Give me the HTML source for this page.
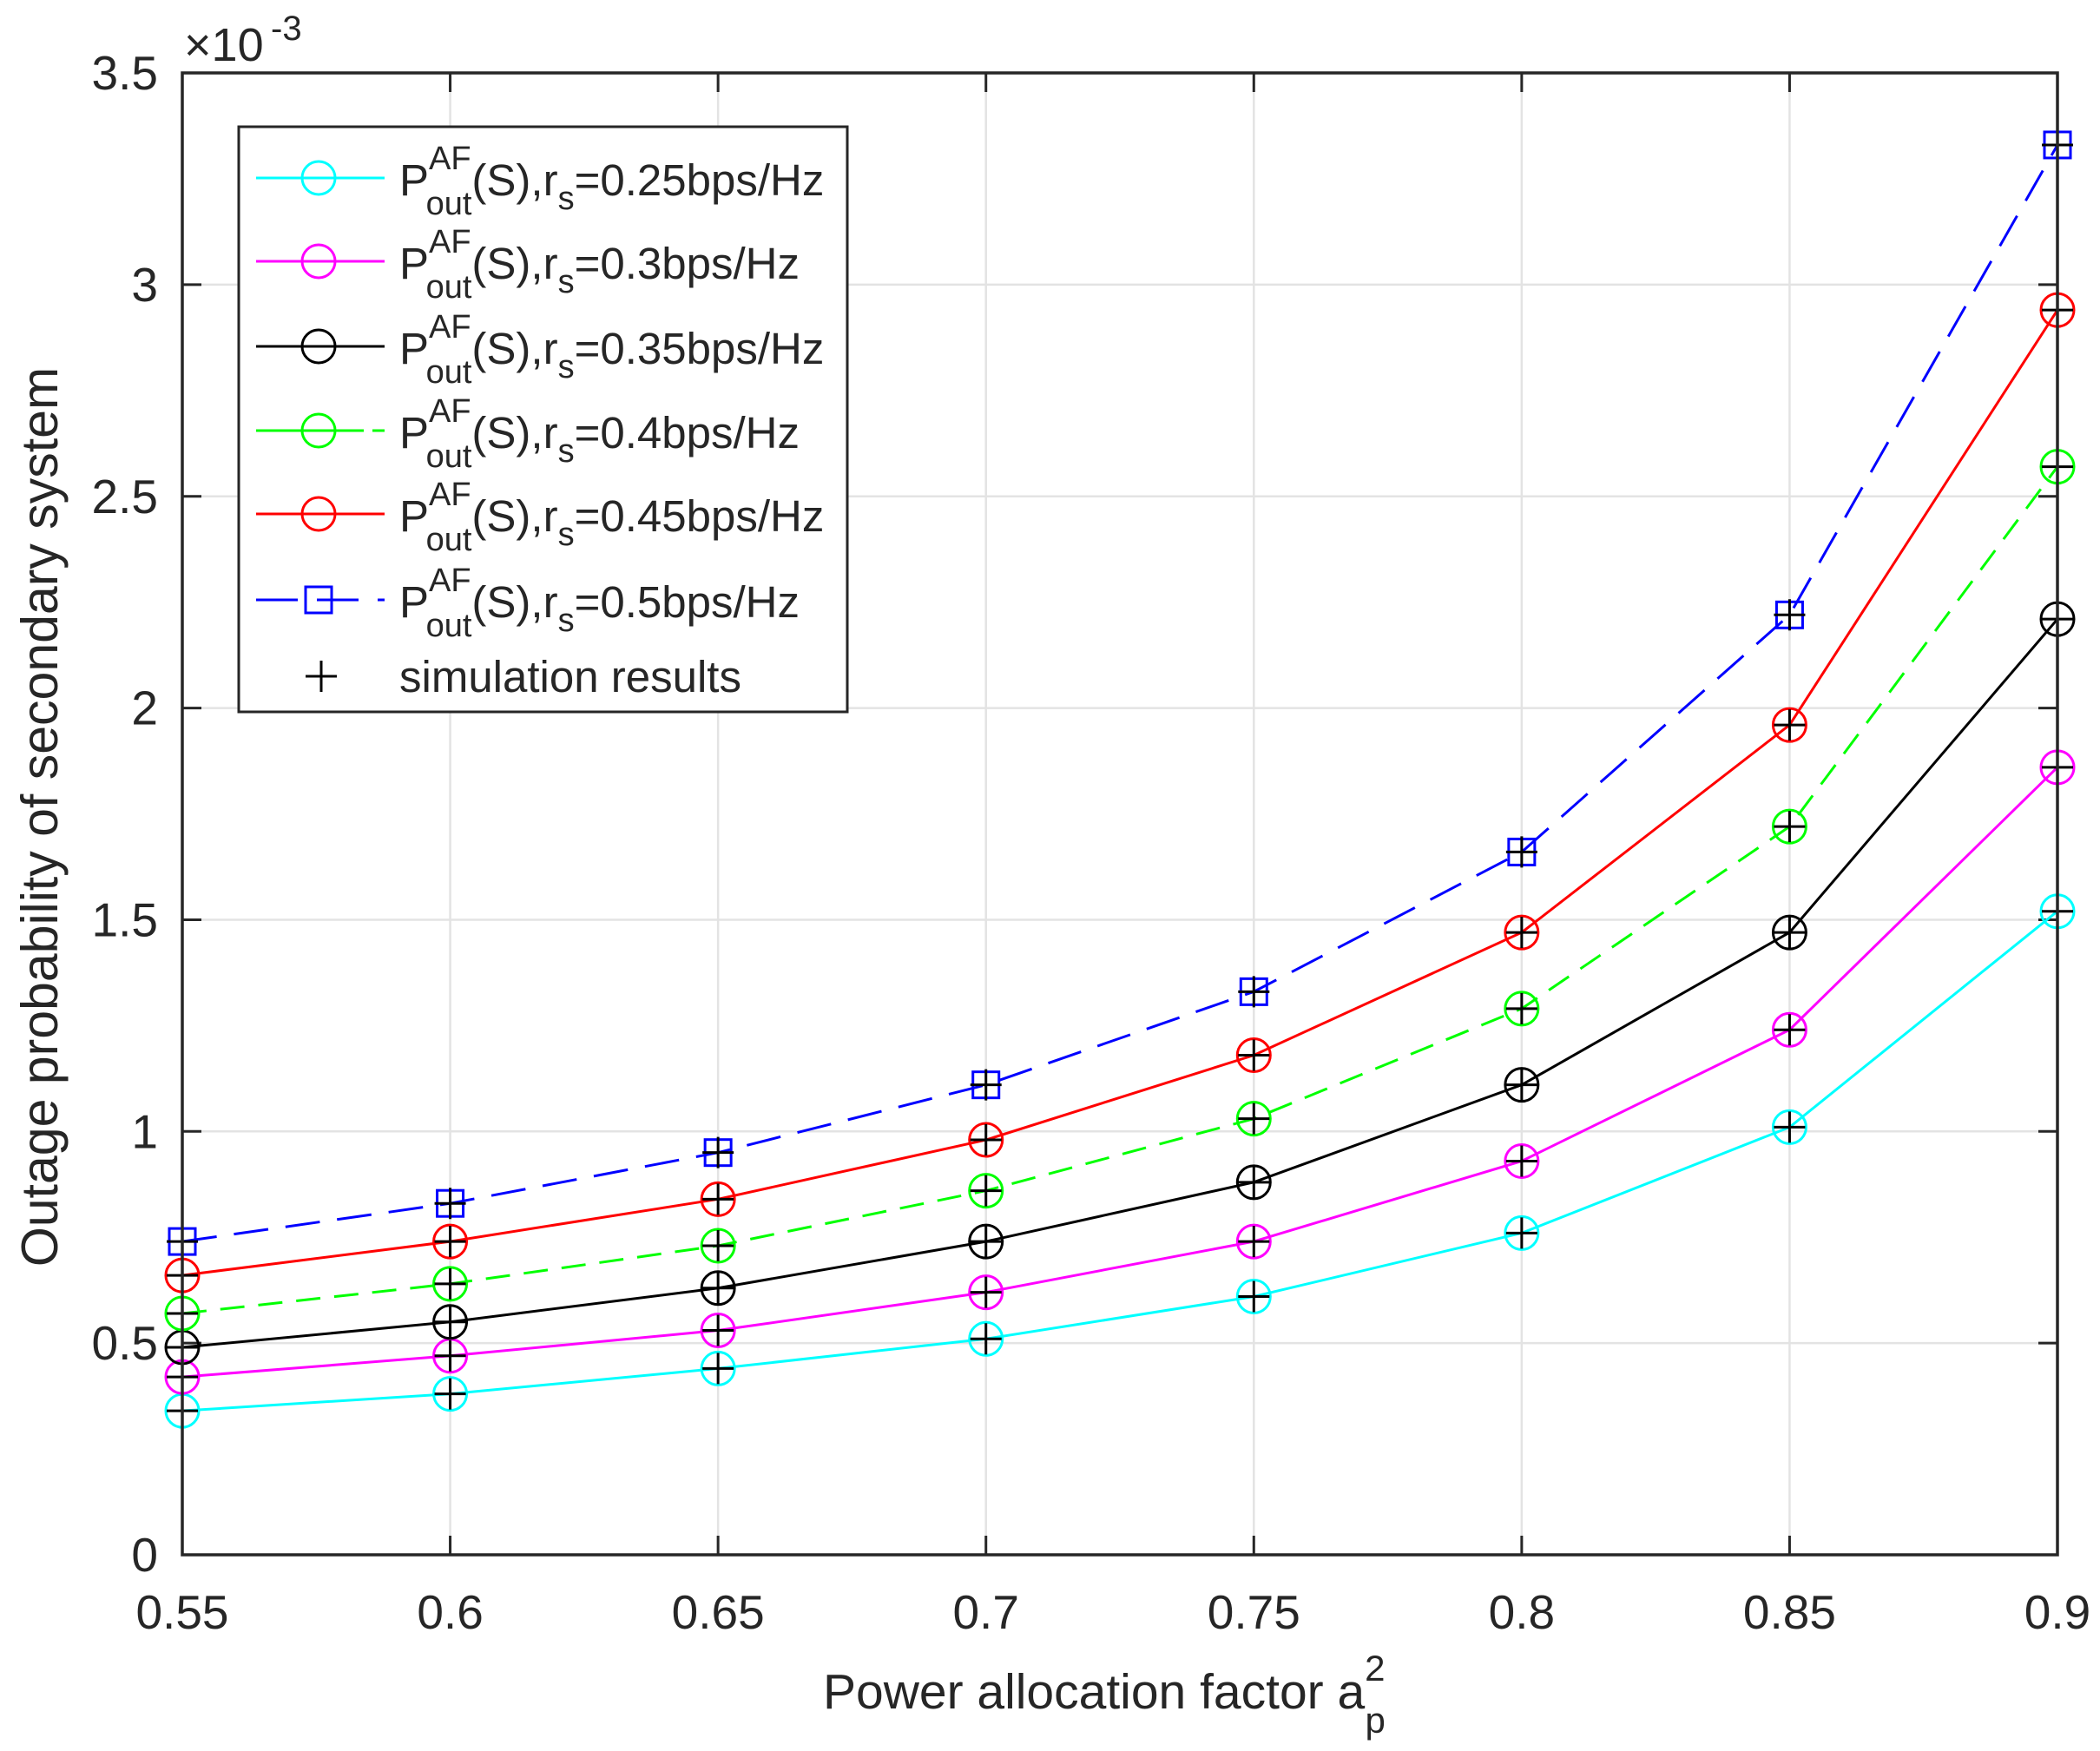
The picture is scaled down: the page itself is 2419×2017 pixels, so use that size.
<!DOCTYPE html>
<html><head><meta charset="utf-8"><style>body{margin:0;background:#fff}svg{display:block}text{font-family:"Liberation Sans",sans-serif;fill:#262626}</style></head>
<body>
<svg id="s" width="2419" height="2017" viewBox="0 0 2419 2017" xmlns="http://www.w3.org/2000/svg"></svg>
<script>
const S=document.getElementById('s');let h='';
const X=v=>210+(v-0.55)/0.35*2160, Y=v=>1791-v*487.7;
const xs=[0.55,0.6,0.65,0.7,0.75,0.8,0.85,0.9];
xs.forEach(v=>{h+=`<line x1="${X(v)}" y1="84" x2="${X(v)}" y2="1791" stroke="#e3e3e3" stroke-width="2.5"/>`;});
for(let i=0;i<=7;i++){const y=Y(i*0.5);h+=`<line x1="210" y1="${y}" x2="2370" y2="${y}" stroke="#e3e3e3" stroke-width="2.5"/>`;}
xs.forEach(v=>{const x=X(v);h+=`<line x1="${x}" y1="1791" x2="${x}" y2="1769" stroke="#262626" stroke-width="3"/><line x1="${x}" y1="84" x2="${x}" y2="106" stroke="#262626" stroke-width="3"/><text x="${x}" y="1876" font-size="55" text-anchor="middle">${v}</text>`;});
const yl=['0','0.5','1','1.5','2','2.5','3','3.5'];
for(let i=0;i<=7;i++){const y=Y(i*0.5);h+=`<line x1="210" y1="${y}" x2="232" y2="${y}" stroke="#262626" stroke-width="3"/><line x1="2370" y1="${y}" x2="2348" y2="${y}" stroke="#262626" stroke-width="3"/><text x="182" y="${y+19}" font-size="55" text-anchor="end">${yl[i]}</text>`;}
const data=[
['#00ffff','',[0.34,0.38,0.44,0.51,0.61,0.76,1.01,1.52],'c','0.25'],
['#ff00ff','',[0.42,0.47,0.53,0.62,0.74,0.93,1.24,1.86],'c','0.3'],
['#000000','',[0.49,0.55,0.63,0.74,0.88,1.11,1.47,2.21],'c','0.35'],
['#00ff00','28,16',[0.57,0.64,0.73,0.86,1.03,1.29,1.72,2.57],'c','0.4'],
['#ff0000','',[0.66,0.74,0.84,0.98,1.18,1.47,1.96,2.94],'c','0.45'],
['#0000ff','40,20',[0.74,0.83,0.95,1.11,1.33,1.66,2.22,3.33],'s','0.5']];
const mk=(t,x,y,c)=>t=='c'?`<circle cx="${x}" cy="${y}" r="19" fill="none" stroke="${c}" stroke-width="3"/>`:`<rect x="${x-15}" y="${y-15}" width="30" height="30" fill="none" stroke="${c}" stroke-width="3"/>`;
const plus=(x,y)=>`<path d="M${x-18} ${y}H${x+18}M${x} ${y-18}V${y+18}" stroke="#000" stroke-width="3"/>`;
data.forEach(d=>{const pts=d[2].map((v,i)=>X(xs[i])+','+Y(v)).join(' ');
h+=`<polyline points="${pts}" fill="none" stroke="${d[0]}" stroke-width="3" ${d[1]?`stroke-dasharray="${d[1]}"`:''}/>`;
d[2].forEach((v,i)=>{h+=mk(d[3],X(xs[i]),Y(v),d[0])+plus(X(xs[i]),Y(v));});});
h+=`<rect x="210" y="84" width="2160" height="1707" fill="none" stroke="#262626" stroke-width="3.5"/>`;
h+=`<text x="212" y="70" font-size="54">×10</text><text x="312" y="46" font-size="40">-3</text>`;
h+=`<rect x="275" y="146" width="701" height="674" fill="#fff" stroke="#262626" stroke-width="3"/>`;
const rows=[205,301,399,496,592,691];
data.forEach((d,i)=>{const y=rows[i];h+=`<line x1="295" y1="${y}" x2="443" y2="${y}" stroke="${d[0]}" stroke-width="3" ${d[1]?`stroke-dasharray="${d[1]=='40,20'?'48,22':'124,10'}"`:''}/>`+mk(d[3],367,y,d[0]);
h+=`<text x="460" y="${y+20}" font-size="51">P<tspan font-size="38" dy="-30">AF</tspan><tspan font-size="38" dx="-52" dy="52">out</tspan><tspan dy="-22">(S),r</tspan><tspan font-size="38" dy="16">s</tspan><tspan dy="-16">=${d[4]}bps/Hz</tspan></text>`;});
h+=plus(370,779)+`<text x="460" y="797" font-size="51">simulation results</text>`;
h+=`<text transform="translate(66,941) rotate(-90)" font-size="59" text-anchor="middle">Outage probability of secondary system</text>`;
h+=`<text x="948" y="1968" font-size="57">Power allocation factor a<tspan font-size="42" dy="-32">2</tspan><tspan font-size="42" dx="-23" dy="60">p</tspan></text>`;
S.innerHTML=h;
</script>
</body></html>
